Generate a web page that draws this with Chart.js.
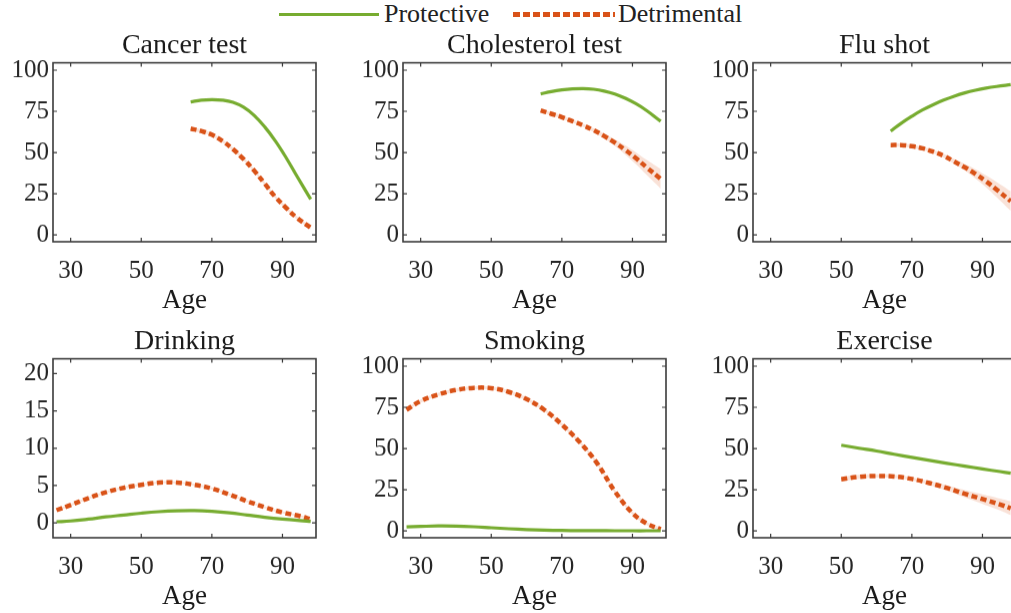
<!DOCTYPE html>
<html><head><meta charset="utf-8">
<script src="https://cdn.jsdelivr.net/npm/chart.js@4.4.1/dist/chart.umd.min.js"></script>
<style>
html,body{margin:0;padding:0;background:#fff;width:1011px;height:613px;overflow:hidden;position:relative;}
canvas{position:absolute;}
#legend{position:absolute;left:0;top:0;width:1011px;height:30px;font-family:'Liberation Serif','Times New Roman',serif;font-size:26px;color:#222;}
.item{position:absolute;top:-1px;line-height:30px;white-space:nowrap}
.sw{position:absolute;top:13px}
</style></head><body>
<div id="legend">
 <div class="sw" style="left:279px;width:100px;height:3px;background:#77AC30"></div>
 <div class="item" style="left:384px">Protective</div>
 <div class="sw" style="left:513px;top:12px;width:102px;height:5px;background:repeating-linear-gradient(90deg,#D95319 0 7px,transparent 7px 10px)"></div>
 <div class="item" style="left:618px">Detrimental</div>
</div>
<script>
// ---------- data ----------
const panelTitles = ['Cancer test','Cholesterol test','Flu shot','Drinking','Smoking','Exercise'];
const seriesNames = ['Protective','Detrimental'];
const xTicks = [30,50,70,90];
const yTicksPct = [0,25,50,75,100];
const yTicksDrink = [0,5,10,15,20];

const screenAge = [64,67,70,73,76,79,82,85,88,91,94,98];
const cancerProtective  = [80.7,81.8,82.1,81.8,80.5,77.5,72.5,65.5,57,47,36,21.6];
const cancerDetrimental = [64.5,63,60.8,57,52,46,39,31,23,16.5,10.5,4.3];
const cancerDetrCI      = [1,1,1,1,1,1,1,1,1,1,1,1];

const cholProtective  = [85.6,87,88,88.6,88.8,88.4,87.3,85.5,82.9,79.6,75.5,69];
const cholDetrimental = [75.5,73.5,71.5,69,66.5,63.5,60,56,51.5,46.5,41,34];
const cholDetrCI      = [1,1,1,1,1,1.2,1.5,2,2.8,3.6,4.6,6];

const fluProtective  = [63,67.8,72,75.8,79,81.8,84.2,86.2,87.8,89.1,90.1,91.2];
const fluDetrimental = [54.5,54.5,53.8,52.5,50.5,48,44.5,41,37,32.5,27.5,20.5];
const fluDetrCI      = [1.2,1,1,1,1,1.2,1.5,2,2.8,3.6,4.6,6];

const drinkAge = [26,30,35,40,45,50,55,60,65,70,75,80,85,90,95,98];
const drinkProtective  = [0.15,0.25,0.5,0.8,1.05,1.3,1.5,1.62,1.65,1.55,1.35,1.05,0.75,0.5,0.3,0.2];
const drinkDetrimental = [1.7,2.4,3.3,4.1,4.7,5.1,5.4,5.4,5.1,4.6,3.8,2.9,2.1,1.4,0.9,0.5];
const drinkDetrCI      = [0.2,0.15,0.15,0.15,0.15,0.15,0.15,0.15,0.15,0.15,0.15,0.15,0.15,0.15,0.15,0.2];

const smokeAge = [26,30,35,40,45,50,55,60,65,70,75,80,85,90,94,98];
const smokeProtective  = [2.4,2.7,3,2.9,2.5,1.9,1.3,0.8,0.45,0.25,0.15,0.1,0.08,0.05,0.05,0.05];
const smokeDetrimental = [73.5,78.8,82.8,85.5,86.8,86.6,84.3,80,73.5,64.5,54,41,24,10.8,4.5,1];
const smokeDetrCI      = [1,1,1,1,1,1,1,1,1,1,1,1,1,1,1,1];

const exAge = [50,55,60,65,70,75,80,85,90,95,98];
const exProtective  = [52,50.2,48.5,46.5,44.6,42.8,41,39.3,37.6,36,35];
const exDetrimental = [31.3,32.8,33.3,33,31.5,29,26,22.5,19.3,16,13.7];
const exDetrCI      = [1.5,1.2,1,1,1,1.2,1.6,2.2,2.9,3.6,4.2];

// ---------- styling / layout ----------
const GREEN = '#77AC30', RED = '#D95319', BAND = 'rgba(217,83,25,0.17)';
const FONT = "'Liberation Serif','Times New Roman',serif";
const plotLefts = [53,403,753], plotTops = [63,359];
const plotW = 263, plotH = 179, yAxisW = 53, xAxisH = 75, titleH = 37.6, padR = 8;

Chart.defaults.font.family = FONT;
Chart.defaults.color = '#262626';

const panels = [
  {age:screenAge, p:cancerProtective, d:cancerDetrimental, ci:cancerDetrCI, ymin:-4.2, ymax:104.5, yt:yTicksPct},
  {age:screenAge, p:cholProtective,   d:cholDetrimental,   ci:cholDetrCI,   ymin:-4.2, ymax:104.5, yt:yTicksPct},
  {age:screenAge, p:fluProtective,    d:fluDetrimental,    ci:fluDetrCI,    ymin:-4.2, ymax:104.5, yt:yTicksPct},
  {age:drinkAge,  p:drinkProtective,  d:drinkDetrimental,  ci:drinkDetrCI,  ymin:-2,   ymax:22,    yt:yTicksDrink},
  {age:smokeAge,  p:smokeProtective,  d:smokeDetrimental,  ci:smokeDetrCI,  ymin:-4.2, ymax:104.5, yt:yTicksPct},
  {age:exAge,     p:exProtective,     d:exDetrimental,     ci:exDetrCI,     ymin:-4.2, ymax:104.5, yt:yTicksPct}
];

const boxTicks = {
  id:'boxTicks',
  afterDraw(chart){
    const {ctx, chartArea:a, scales:{x,y}} = chart;
    ctx.save();
    ctx.strokeStyle = '#3a3a3a';
    ctx.lineWidth = 1.2;
    const L = 4;
    ctx.beginPath();
    x.ticks.forEach(t=>{const px=x.getPixelForValue(t.value);
      ctx.moveTo(px,a.bottom); ctx.lineTo(px,a.bottom-L);
      ctx.moveTo(px,a.top); ctx.lineTo(px,a.top+L);});
    y.ticks.forEach(t=>{const py=y.getPixelForValue(t.value);
      ctx.moveTo(a.left,py); ctx.lineTo(a.left+L,py);
      ctx.moveTo(a.right,py); ctx.lineTo(a.right-L,py);});
    ctx.stroke();
    ctx.lineWidth = 1.6;
    ctx.strokeRect(a.left, a.top, a.right-a.left, a.bottom-a.top);
    ctx.restore();
  }
};

const pts = (xs, ys) => xs.map((v,i)=>({x:v, y:ys[i]}));

panels.forEach((pn, i) => {
  const col = i % 3, row = Math.floor(i/3);
  const cv = document.createElement('canvas');
  const W = yAxisW + plotW + padR, H = titleH + plotH + xAxisH;
  cv.width = W; cv.height = H;
  cv.style.left = (plotLefts[col] - yAxisW) + 'px';
  cv.style.top = (plotTops[row] - titleH) + 'px';
  cv.style.width = W + 'px'; cv.style.height = H + 'px';
  document.body.appendChild(cv);
  const upper = pn.d.map((v,k)=>v+pn.ci[k]);
  const lower = pn.d.map((v,k)=>v-pn.ci[k]);
  new Chart(cv, {
    type:'line',
    data:{datasets:[
      {data:pts(pn.age, upper), fill:'+1', backgroundColor:BAND, borderWidth:0, pointRadius:0, tension:0.4},
      {data:pts(pn.age, lower), fill:false, borderWidth:0, pointRadius:0, tension:0.4},
      {label:seriesNames[0], data:pts(pn.age, pn.p), borderColor:GREEN, borderWidth:3.2, pointRadius:0, fill:false, tension:0.4},
      {label:seriesNames[1], data:pts(pn.age, pn.d), borderColor:RED, borderWidth:4.5, borderDash:[6,3.5], pointRadius:0, fill:false, tension:0.4}
    ]},
    options:{
      responsive:false, animation:false, devicePixelRatio:1,
      layout:{padding:{left:0, right:padR, top:0, bottom:0}},
      plugins:{
        legend:{display:false}, tooltip:{enabled:false},
        title:{display:true, text:panelTitles[i], fullSize:false, color:'#1a1a1a',
               font:{size:28, weight:'normal', family:FONT, lineHeight:1.2}, padding:{top:4,bottom:0}}
      },
      scales:{
        x:{type:'linear', min:25, max:99.5,
           afterBuildTicks: s => { s.ticks = xTicks.map(v=>({value:v})); },
           afterFit: s => { s.height = xAxisH; },
           grid:{display:false, drawTicks:false}, border:{display:false},
           ticks:{padding:14, font:{size:25, family:FONT}, color:'#262626'},
           title:{display:true, text:'Age', font:{size:27, lineHeight:1.2, family:FONT}, color:'#1a1a1a', padding:{top:0,bottom:0}}},
        y:{type:'linear', min:pn.ymin, max:pn.ymax,
           afterBuildTicks: s => { s.ticks = pn.yt.map(v=>({value:v})); },
           afterFit: s => { s.width = yAxisW; },
           grid:{display:false, drawTicks:false}, border:{display:false},
           ticks:{padding:4, font:{size:25, family:FONT}, color:'#262626'}}
      }
    },
    plugins:[boxTicks]
  });
});
</script>
</body></html>
